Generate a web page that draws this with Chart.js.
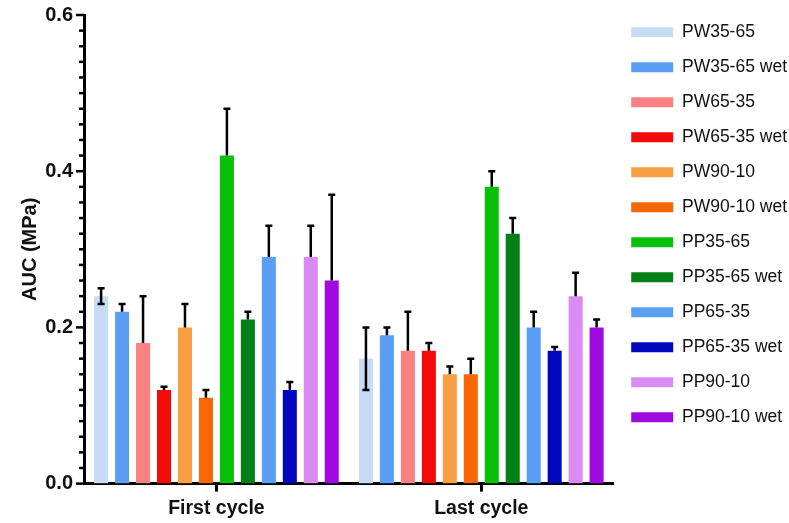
<!DOCTYPE html>
<html>
<head>
<meta charset="utf-8">
<script src="https://cdn.jsdelivr.net/npm/chart.js@4"></script>
<style>
  html, body { margin: 0; padding: 0; background: #fff; }
  #wrap { width: 789px; height: 523px; }
</style>
</head>
<body>
<div id="wrap"><canvas id="mainChart" width="789" height="523"></canvas></div>
<script>
const cycles = ['First cycle', 'Last cycle'];
const seriesNames = ['PW35-65', 'PW35-65 wet', 'PW65-35', 'PW65-35 wet', 'PW90-10', 'PW90-10 wet',
  'PP35-65', 'PP35-65 wet', 'PP65-35', 'PP65-35 wet', 'PP90-10', 'PP90-10 wet'];
const seriesColors = ['#c6dcf4', '#5b9ff4', '#f98181', '#f50a0a', '#f9a042', '#f86606',
  '#08c008', '#058016', '#5b9ff4', '#0208bd', '#d98bf3', '#a10ade'];
// mean values, [first cycle, last cycle]
const means = [
  [0.24, 0.16], [0.22, 0.19], [0.18, 0.17], [0.12, 0.17], [0.20, 0.14], [0.11, 0.14],
  [0.42, 0.38], [0.21, 0.32], [0.29, 0.20], [0.12, 0.17], [0.29, 0.24], [0.26, 0.20]
];
// error (SD), [first cycle, last cycle]
const errors = [
  [0.01, 0.04], [0.01, 0.01], [0.06, 0.05], [0.004, 0.01], [0.03, 0.01], [0.01, 0.02],
  [0.06, 0.02], [0.01, 0.02], [0.04, 0.02], [0.01, 0.005], [0.04, 0.03], [0.11, 0.01]
];
const yTicks = [0, 0.2, 0.4, 0.6];

const FONT = "'Liberation Sans', Arial, sans-serif";

const errorBars = {
  id: 'errorBars',
  afterDatasetsDraw(chart) {
    const ctx = chart.ctx;
    const y = chart.scales.y;
    ctx.save();
    ctx.strokeStyle = '#000';
    ctx.lineWidth = 2.5;
    chart.data.datasets.forEach((ds, i) => {
      const meta = chart.getDatasetMeta(i);
      meta.data.forEach((bar, j) => {
        const v = ds.data[j], e = ds.err[j];
        const yTop = y.getPixelForValue(v + e);
        const yBot = ds.bothWays ? y.getPixelForValue(v - e) : bar.y;
        const cap = 3.5;
        ctx.beginPath();
        ctx.moveTo(bar.x, yBot);
        ctx.lineTo(bar.x, yTop);
        ctx.moveTo(bar.x - cap, yTop);
        ctx.lineTo(bar.x + cap, yTop);
        if (ds.bothWays) {
          ctx.moveTo(bar.x - cap, yBot);
          ctx.lineTo(bar.x + cap, yBot);
        }
        ctx.stroke();
      });
    });
    ctx.restore();
  }
};

// major + minor tick marks on the y axis (every 0.02)
const yMinorTicks = {
  id: 'yMinorTicks',
  afterDraw(chart) {
    const ctx = chart.ctx;
    const y = chart.scales.y;
    const x0 = chart.chartArea.left;
    ctx.save();
    ctx.strokeStyle = '#000';
    ctx.lineWidth = 2.5;
    for (let k = 0; k <= 30; k++) {
      const py = y.getPixelForValue(k * 0.02);
      const len = k % 10 === 0 ? 8 : 5;
      ctx.beginPath();
      ctx.moveTo(x0 - len, py);
      ctx.lineTo(x0, py);
      ctx.stroke();
    }
    ctx.restore();
  }
};

new Chart(document.getElementById('mainChart'), {
  type: 'bar',
  data: {
    labels: cycles,
    datasets: seriesNames.map((name, i) => ({
      label: name,
      data: means[i],
      err: errors[i],
      bothWays: i === 0,
      backgroundColor: seriesColors[i],
      borderWidth: 0,
      categoryPercentage: 0.95,
      barPercentage: 0.67
    }))
  },
  options: {
    responsive: false,
    animation: false,
    layout: { padding: { top: 6, right: -8, left: 18, bottom: -2 } },
    plugins: {
      tooltip: { enabled: false },
      legend: {
        position: 'right',
        align: 'start',
        labels: {
          boxWidth: 42,
          boxHeight: 10,
          padding: 17.5,
          color: '#111',
          font: { family: FONT, size: 17.5 }
        }
      }
    },
    scales: {
      x: {
        border: { display: true, color: '#000', width: 3 },
        grid: { display: true, drawOnChartArea: false, offset: false, tickLength: 8, tickWidth: 3, tickColor: '#000' },
        ticks: { color: '#111', font: { family: FONT, size: 19.5, weight: 'bold' }, padding: 5 }
      },
      y: {
        min: 0,
        max: 0.6,
        border: { display: true, color: '#000', width: 3 },
        grid: { display: false, drawTicks: true, tickLength: 8 },
        afterBuildTicks(axis) {
          axis.ticks = yTicks.map(v => ({ value: v }));
        },
        afterFit(axis) {
          axis.width = 66;
        },
        ticks: {
          color: '#111',
          padding: 3,
          font: { family: FONT, size: 20, weight: 'bold' },
          callback: v => v.toFixed(1)
        },
        title: {
          display: true,
          text: 'AUC (MPa)',
          color: '#111',
          font: { family: FONT, size: 20, weight: 'bold' },
          padding: { top: 0, bottom: 2 }
        }
      }
    }
  },
  plugins: [errorBars, yMinorTicks]
});
</script>
</body>
</html>
